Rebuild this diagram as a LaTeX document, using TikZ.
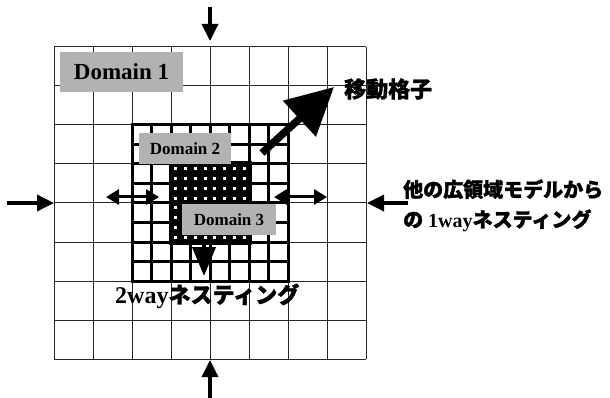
\documentclass[tikz,border=0pt]{standalone}
\usepackage{fontspec}
\setmainfont{Liberation Serif}
\newfontfamily\jp{Noto Sans CJK JP}[BoldFeatures={FakeBold=1.6}]
\usetikzlibrary{arrows.meta}
\definecolor{lblgray}{HTML}{B2B2B2}
\tikzset{
  dgrid/.style={line width=1pt, black!85},
  dtwo/.style={line width=3pt, black, line cap=rect},
  lbl/.style={fill=lblgray, inner sep=0pt, font=\rmfamily\bfseries},
  arr/.style={line width=3.5pt, -{Triangle[width=16pt,length=17pt]}},
  darr/.style={line width=3pt, {Triangle[width=15pt,length=13pt]}-{Triangle[width=15pt,length=13pt]}},
  bigarr/.style={line width=7.5pt, -{Triangle[width=47pt,length=47pt]}},
  downarr/.style={line width=4pt, -{Triangle[width=23pt,length=29pt]}},
  jtext/.style={inner sep=0pt, font=\jp\bfseries}
}
\begin{document}
\begin{tikzpicture}[x=1pt,y=-1pt]
\useasboundingbox (0,0) rectangle (610,398);
% Domain 1 grid
\foreach \i in {0,...,8} {
  \draw[dgrid] (54+39*\i,47) -- (54+39*\i,359);
  \draw[dgrid] (54,47+39*\i) -- (366,47+39*\i);
}
\node[lbl, minimum width=123pt, minimum height=40pt, font=\rmfamily\bfseries\fontsize{23}{26}\selectfont] (d1) at (121.5,72) {Domain 1};
% Domain 2 grid
\foreach \i in {0,...,8} {
  \draw[dtwo] (132+19.5*\i,125) -- (132+19.5*\i,281);
  \draw[dtwo] (132,125+19.5*\i) -- (288,125+19.5*\i);
}
% Domain 3 grid
\fill[black] (168.5,161.5) rectangle (251.5,244.5);
\foreach \i in {0,...,7} {
  \foreach \j in {0,...,7} {
    \fill[white] (174.4+9.75*\i,167.4+9.75*\j) rectangle ++(3,3);
  }
}
\node[lbl, minimum width=92pt, minimum height=31pt, font=\rmfamily\bfseries\fontsize{17}{20}\selectfont] (d2) at (185,148.5) {Domain 2};
\node[lbl, minimum width=94pt, minimum height=31pt, font=\rmfamily\bfseries\fontsize{17}{20}\selectfont] (d3) at (229,219.5) {Domain 3};
% arrow end points
\coordinate (t1) at (210,7);   \coordinate (t2) at (210,41);
\coordinate (b1) at (210,398); \coordinate (b2) at (210,360);
\coordinate (l1) at (7,203);   \coordinate (l2) at (54,203);
\coordinate (r1) at (408,203); \coordinate (r2) at (367,203);
\coordinate (dl1) at (106,197); \coordinate (dl2) at (159,197);
\coordinate (dr1) at (274,197); \coordinate (dr2) at (327,197);
\coordinate (dd1) at (204,242); \coordinate (dd2) at (204,276);
\coordinate (g1) at (262,153); \coordinate (g2) at (334,87);
\draw[arr] (t1) -- (t2);
\draw[arr] (b1) -- (b2);
\draw[arr] (l1) -- (l2);
\draw[arr] (r1) -- (r2);
\draw[darr] (dl1) -- (dl2);
\draw[darr] (dr1) -- (dr2);
\draw[downarr] (dd1) -- (dd2);
\draw[bigarr] (g1) -- (g2);
% texts
\node[jtext, anchor=west, font=\jp\bfseries\fontsize{22}{26}\selectfont] (move) at (344,89) {移動格子};
\node[jtext, anchor=base west, font=\jp\bfseries\fontsize{20}{24}\selectfont] (other1) at (403,197) {他の広領域モデルから};
\node[jtext, anchor=base west, font=\jp\bfseries\fontsize{20}{24}\selectfont] (other2) at (403,227) {の\hspace{5pt}{\rmfamily\bfseries 1way}ネスティング};
\node[jtext, anchor=base west, font=\jp\bfseries\fontsize{22}{26}\selectfont] (two) at (115,303) {{\rmfamily\bfseries\fontsize{24}{26}\selectfont 2way}ネスティング};
\end{tikzpicture}
\end{document}
